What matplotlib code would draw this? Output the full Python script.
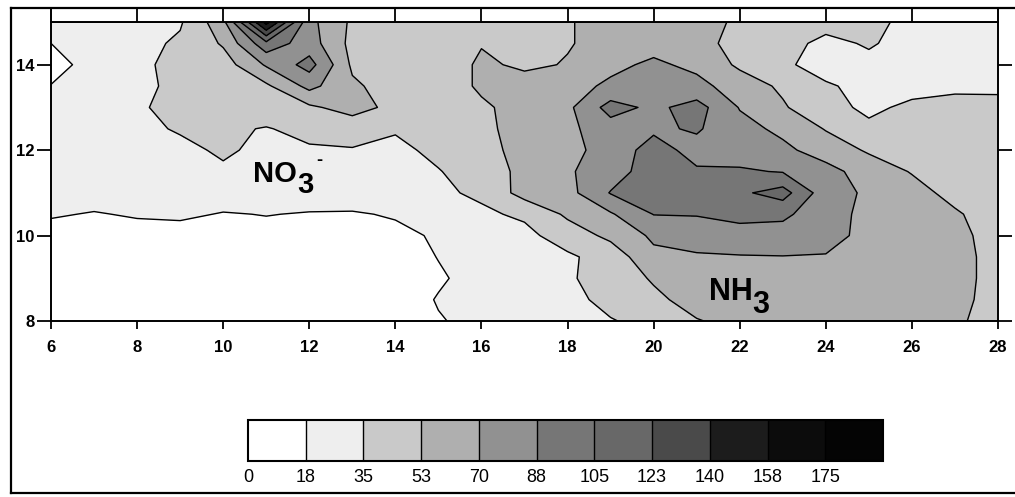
"""Gridded NO3- / NH3 concentration field, filled grey contours with boxed legend."""

import matplotlib

matplotlib.use("Agg")
import matplotlib.pyplot as plt
import numpy as np
from matplotlib.lines import Line2D

NARROW = ["Liberation Sans Narrow", "Liberation Sans", "DejaVu Sans"]
PLAIN = ["Liberation Sans", "DejaVu Sans"]

# grid (x across, y up)
x_pos = np.arange(6, 29, 1)
y_pos = np.arange(8, 15.01, 0.5)

levels = [0, 18, 35, 53, 70, 88, 105, 123, 140, 158, 175, 193]
level_labels = ["0", "18", "35", "53", "70", "88", "105", "123", "140", "158", "175"]
fill_grays = ["#ffffff", "#eeeeee", "#c9c9c9", "#afafaf", "#919191", "#767676",
              "#686868", "#4a4a4a", "#1c1c1c", "#0c0c0c", "#040404"]

x_ticks = [6, 8, 10, 12, 14, 16, 18, 20, 22, 24, 26, 28]
y_ticks = [8, 10, 12, 14]

# rows listed from the top (y = 15) down to y = 8, columns x = 6 .. 28
concentration = [
    [25, 25, 28, 33, 65, 165, 75, 50, 45, 43, 42, 45, 52, 58, 62, 60, 50, 45, 42, 38, 32, 30, 30],
    [18, 25, 29, 38, 55, 100, 78, 48, 45, 43, 52, 48, 52, 58, 64, 58, 48, 42, 30, 37, 28, 27, 28],
    [12, 24, 30, 42, 45, 72, 95, 50, 44, 42, 56, 50, 54, 66, 73, 66, 50, 38, 28, 30, 25, 25, 28],
    [18.5, 25, 30, 40, 45, 50, 75, 56, 45, 42, 56, 60, 64, 73, 85, 75, 62, 50, 37, 30, 30, 32, 33],
    [20, 26, 33, 40, 42, 45, 50, 60, 48, 43, 50, 60, 66, 95, 84, 95, 69, 55, 40, 32, 38, 40, 38],
    [22, 27, 30, 37, 38, 34, 40, 42, 37, 40, 50, 58, 66, 80, 85, 90, 76, 66, 52, 38, 40, 42, 40],
    [22, 25, 27, 30, 38, 30, 33, 34, 30, 40, 49, 57, 64, 78, 95, 82, 80, 74, 62, 51, 46, 45, 42],
    [24, 24, 26, 28, 32, 28, 28, 28, 30, 34, 45, 57, 68, 79, 98, 90, 90, 87, 76, 62, 52, 46, 44],
    [24, 25, 25, 26, 27, 27, 26, 27, 28, 32, 38, 60, 64, 89, 100, 100, 102, 112, 78, 67, 59, 48, 44],
    [19.5, 17, 19.5, 21, 17, 18.5, 17, 16.5, 19.5, 24, 32, 38, 56, 68, 88.5, 89, 94, 92, 76, 66, 60, 55, 45],
    [12, 13, 12, 11, 12, 13, 12, 12, 14, 20, 25, 30, 44, 57, 73, 78, 80, 80, 76, 65, 60, 58, 46],
    [10, 10, 10, 10, 10, 10, 10, 10, 10, 18.5, 24, 28, 32, 43, 66, 68, 69, 69.5, 69, 62, 58, 58, 48],
    [10, 10, 10, 10, 10, 10, 10, 10, 10, 16, 24, 28, 33, 42, 55, 62, 64, 64, 63, 61, 58, 58, 48],
    [10, 10, 10, 10, 10, 10, 10, 10, 10, 19, 25, 27, 30, 40, 49, 60, 60, 61, 61, 60, 58, 57, 48],
    [10, 10, 10, 10, 10, 10, 10, 10, 10, 17, 22, 27, 30, 34, 40, 52, 58, 60, 60, 60, 58, 55, 48],
]

W, H = 1015, 497


def fig_box(left, top, right, bottom):
    return [left / W, 1 - bottom / H, (right - left) / W, (bottom - top) / H]


fig = plt.figure(figsize=(W / 100, H / 100), dpi=100)

ax = fig.add_axes(fig_box(51, 22, 998, 321))
X, Y = np.meshgrid(x_pos, y_pos)
Z = np.array(concentration)[::-1]
cf = ax.contourf(X, Y, Z, levels=levels, colors=fill_grays)
ax.contour(X, Y, Z, levels=levels[1:-1], colors="k", linewidths=1.0)
ax.set_xlim(6, 28)
ax.set_ylim(8, 15)
ax.set_xticks(x_ticks)
ax.set_yticks(y_ticks)
for s in ax.spines.values():
    s.set_linewidth(1.4)
ax.tick_params(axis="x", direction="out", length=6, width=1.3, pad=8, top=False)
ax.tick_params(axis="y", direction="out", length=10, width=1.3, pad=2,
               left=True, right=True)
for lab in ax.get_xticklabels() + ax.get_yticklabels():
    lab.set_family(NARROW)
    lab.set_fontweight("bold")
    lab.set_fontsize(12)

# species labels
ax.text(11.72, 11.26, "NO", family=NARROW, fontweight="bold", fontsize=21,
        ha="right", va="baseline")
ax.annotate("3", (11.72, 11.26), xytext=(0, -8), textcoords="offset points",
            family=NARROW, fontweight="bold", fontsize=21, ha="left", va="baseline")
ax.annotate("-", (11.72, 11.26), xytext=(14, 12), textcoords="offset points",
            family=NARROW, fontweight="bold", fontsize=13, ha="left", va="baseline")
ax.text(22.3, 8.49, "NH", family=NARROW, fontweight="bold", fontsize=22,
        ha="right", va="baseline")
ax.annotate("3", (22.3, 8.49), xytext=(0, -9), textcoords="offset points",
            family=NARROW, fontweight="bold", fontsize=22, ha="left", va="baseline")

# strip above the map with tick dividers
strip = fig.add_axes(fig_box(51, 8, 998, 22))
strip.set_xlim(6, 28)
strip.set_ylim(0, 1)
for t in x_ticks[1:-1]:
    strip.axvline(t, color="k", lw=1.3)
strip.set_xticks([])
strip.set_yticks([])
for s in strip.spines.values():
    s.set_linewidth(1.4)

# outer frame
for xs, ys in [([11, 11], [8, 493]), ([11, W], [8, 8]), ([11, W], [493, 493])]:
    fig.add_artist(Line2D([v / W for v in xs], [1 - v / H for v in ys],
                          transform=fig.transFigure, color="k", lw=1.6))

# legend boxes
cax = fig.add_axes(fig_box(248, 420, 883, 461))
cb = fig.colorbar(cf, cax=cax, orientation="horizontal", drawedges=True,
                  ticks=levels[:-1])
cb.ax.set_xticklabels(level_labels)
cb.ax.tick_params(length=0, pad=6)
for lab in cb.ax.get_xticklabels():
    lab.set_family(PLAIN)
    lab.set_fontsize(13)
cb.outline.set_linewidth(1.5)
cb.dividers.set_linewidth(1.0)

fig.savefig("out.png", dpi=100)
